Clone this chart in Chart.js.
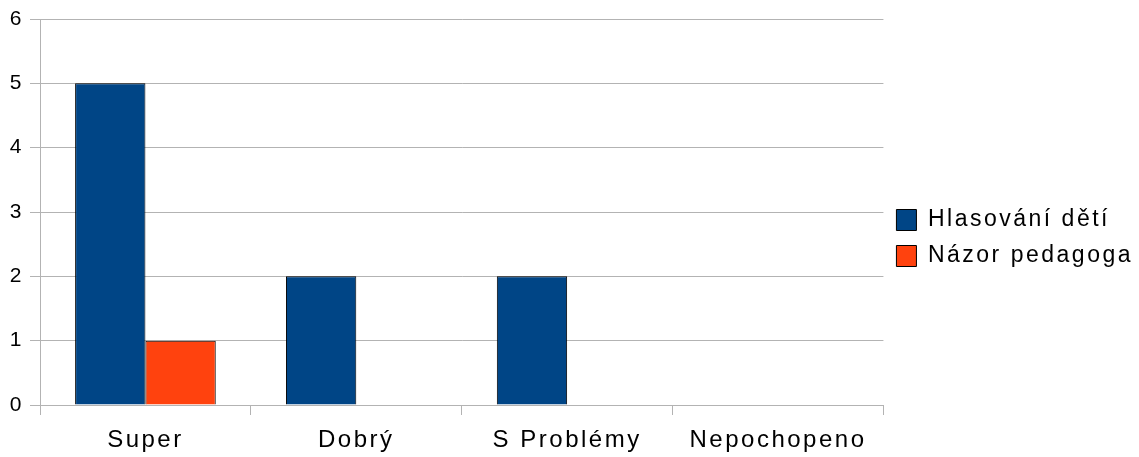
<!DOCTYPE html>
<html>
<head>
<meta charset="utf-8">
<script src="https://cdn.jsdelivr.net/npm/chart.js@4"></script>
<style>
html,body{margin:0;padding:0;background:#fff;}
#wrap{width:1139px;height:457px;position:relative;}
</style>
</head>
<body>
<div id="wrap"><canvas id="c"></canvas></div>
<script>
const categories = ["Super", "Dobrý", "S Problémy", "Nepochopeno"];
const seriesNames = ["Hlasování dětí", "Názor pedagoga"];
const hlasovaniDeti = [5, 2, 2, 0];
const nazorPedagoga = [1, 0, 0, 0];
const yTicks = [0, 1, 2, 3, 4, 5, 6];

const gridColor = '#b3b3b3';
const FONT = '"Liberation Sans", Arial, sans-serif';
const SPACING = '2.5px';

const spacingPlugin = {
  id: 'spacing',
  beforeInit(chart) { chart.ctx.letterSpacing = SPACING; },
  beforeLayout(chart) { chart.ctx.letterSpacing = SPACING; },
  beforeDraw(chart) { chart.ctx.letterSpacing = SPACING; }
};

new Chart(document.getElementById('c'), {
  type: 'bar',
  plugins: [spacingPlugin],
  data: {
    labels: categories,
    datasets: [
      { label: seriesNames[0], data: hlasovaniDeti, backgroundColor: '#004586', borderColor: '#000', borderWidth: 1 },
      { label: seriesNames[1], data: nazorPedagoga, backgroundColor: '#ff420e', borderColor: '#000', borderWidth: 1 }
    ]
  },
  options: {
    responsive: true,
    maintainAspectRatio: false,
    animation: false,
    datasets: { bar: { categoryPercentage: 0.667, barPercentage: 1.0 } },
    layout: { padding: { top: 19, left: 0, right: -4, bottom: 0 } },
    plugins: {
      tooltip: { enabled: false },
      legend: {
        position: 'right',
        align: 'center',
        labels: {
          boxWidth: 20, boxHeight: 21, padding: 13,
          color: '#000',
          font: { family: FONT, size: 23 }
        }
      }
    },
    scales: {
      x: {
        offset: true,
        grid: {
          offset: true,
          drawOnChartArea: true,
          color: (ctx) => (ctx.index === 0 || ctx.index === categories.length) ? gridColor : 'rgba(0,0,0,0)',
          tickColor: gridColor,
          tickLength: 10,
          lineWidth: 1
        },
        border: { color: gridColor },
        ticks: { color: '#000', font: { family: FONT, size: 24 }, padding: 11 },
        afterFit: (s) => { s.height = 52; }
      },
      y: {
        min: 0, max: 6,
        afterBuildTicks: (s) => { s.ticks = yTicks.map(v => ({ value: v })); },
        grid: { color: gridColor, tickColor: gridColor, tickLength: 10 },
        border: { color: gridColor },
        ticks: { color: '#000', font: { family: FONT, size: 21 }, padding: 6 },
        afterFit: (s) => { s.width = 40; }
      }
    }
  }
});
</script>
</body>
</html>
